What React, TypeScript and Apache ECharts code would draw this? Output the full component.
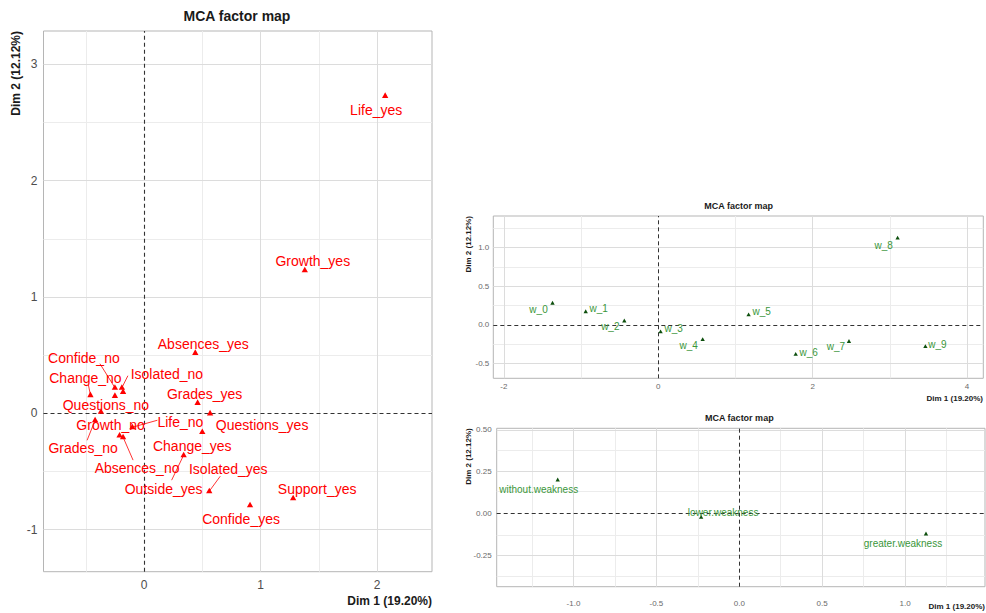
import React, { useEffect, useRef } from "react";
import * as echarts from "echarts";

// ---- Variable categories (left map) ----
const varNames = [
  "Life_yes", "Growth_yes", "Absences_yes", "Grades_yes", "Questions_yes",
  "Change_yes", "Outside_yes", "Isolated_yes", "Support_yes", "Confide_yes",
  "Confide_no", "Change_no", "Isolated_no", "Questions_no", "Growth_no",
  "Grades_no", "Absences_no", "Life_no", "Outside_no", "Support_no",
];
const varDim1 = [
  2.07, 1.38, 0.44, 0.46, 0.567,
  0.50, 0.34, 0.56, 1.28, 0.91,
  -0.25, -0.46, -0.19, -0.37, -0.21,
  -0.42, -0.18, -0.10, -0.18, -0.25,
];
const varDim2 = [
  2.73, 1.23, 0.52, 0.09, 0.0,
  -0.16, -0.36, -0.67, -0.73, -0.79,
  0.22, 0.157, 0.22, 0.014, -0.19,
  -0.06, -0.205, -0.12, 0.185, 0.15,
];

// ---- Weakness levels w_0..w_9 (top right map) ----
const wNames = ["w_0", "w_1", "w_2", "w_3", "w_4", "w_5", "w_6", "w_7", "w_8", "w_9"];
const wDim1 = [-1.37, -0.94, -0.44, 0.03, 0.575, 1.17, 1.78, 2.47, 3.10, 3.46];
const wDim2 = [0.28, 0.17, 0.05, -0.09, -0.19, 0.13, -0.38, -0.215, 1.12, -0.28];

// ---- Weakness groups (bottom right map) ----
const gNames = ["without.weakness", "lower.weakness", "greater.weakness"];
const gDim1 = [-1.095, -0.23, 1.126];
const gDim2 = [0.2, -0.024, -0.124];

// ---- Axis ticks / gridlines ----
const leftXTicks = [0, 1, 2];
const leftXMinor = [-0.5, 0.5, 1.5];
const leftYTicks = [-1, 0, 1, 2, 3];
const leftYMinor = [-0.5, 0.5, 1.5, 2.5];
const trXTicks = [-2, 0, 2, 4];
const trXMinor = [-1, 1, 3];
const trYTicks = [-0.5, 0, 0.5, 1.0];
const trYMinor = [-0.25, 0.25, 0.75, 1.25];
const brXTicks = [-1, -0.5, 0, 0.5, 1];
const brXMinor = [-1.25, -0.75, -0.25, 0.25, 0.75, 1.25];
const brYTicks = [-0.25, 0, 0.25, 0.5];
const brYMinor = [-0.375, -0.125, 0.125, 0.375];

const titleText = "MCA factor map";
const dim1Title = "Dim 1 (19.20%)";
const dim2Title = "Dim 2 (12.12%)";

// ---- Label placement (pixel offsets from the point; optional leader end) ----
type Place = { dx: number; dy: number; seg?: [number, number] } | null;
const varPlace: Place[] = [
  { dx: -9, dy: 14 },
  { dx: 8, dy: -9 },
  { dx: 8, dy: -9 },
  { dx: 7, dy: -9 },
  { dx: 52, dy: 12 },
  { dx: -10, dy: 14 },
  { dx: -20, dy: 34, seg: [-12, 25] },
  { dx: 19, dy: -22, seg: [11, -15] },
  { dx: 24, dy: -9 },
  { dx: -9, dy: 14 },
  { dx: -31, dy: -30, seg: [-15, -24] },
  { dx: -5, dy: -17, seg: [-2, -10] },
  { dx: 45, dy: -14, seg: [6, -12] },
  { dx: 5, dy: -7 },
  { dx: -9, dy: -10 },
  { dx: -12, dy: 28, seg: [-8, 20] },
  { dx: 14, dy: 31, seg: [10, 23] },
  { dx: 48, dy: -5, seg: [25, -7] },
  null,
  null,
];
const wPlace: Place[] = [
  { dx: -14, dy: 6 },
  { dx: 13, dy: -3 },
  { dx: -14, dy: 6 },
  { dx: 13, dy: -3 },
  { dx: -14, dy: 6 },
  { dx: 13, dy: -3 },
  { dx: 13, dy: -2 },
  { dx: -13, dy: 5 },
  { dx: -14, dy: 7 },
  { dx: 12, dy: -2 },
];
const gPlace: Place[] = [
  { dx: -19, dy: 10 },
  { dx: 22, dy: -5 },
  { dx: -23, dy: 9 },
];

const FONT = '"Liberation Sans", Arial, Helvetica, sans-serif';
const RED = "#ff0000";
const GREEN_TXT = "#3a963a";
const GREEN_PT = "#0d4f0d";

function pointsSeries(
  idx: number,
  xs: number[],
  ys: number[],
  names: string[],
  place: Place[],
  opts: { ptColor: string; txtColor: string; size: number; fontSize: number }
) {
  return {
    type: "custom",
    xAxisIndex: idx,
    yAxisIndex: idx,
    z: 5,
    clip: false,
    silent: true,
    encode: { x: 0, y: 1 },
    data: xs.map((x, i) => [x, ys[i], i]),
    renderItem: (params: any, api: any) => {
      const i = params.dataIndex;
      const p = api.coord([api.value(0), api.value(1)]);
      const s = opts.size;
      const children: any[] = [
        {
          type: "polygon",
          shape: {
            points: [
              [p[0], p[1] - s],
              [p[0] - s * 0.9, p[1] + s * 0.6],
              [p[0] + s * 0.9, p[1] + s * 0.6],
            ],
          },
          style: { fill: opts.ptColor },
        },
      ];
      const pl = place[i];
      if (pl) {
        if (pl.seg) {
          children.push({
            type: "line",
            shape: { x1: p[0], y1: p[1], x2: p[0] + pl.seg[0], y2: p[1] + pl.seg[1] },
            style: { stroke: opts.ptColor, lineWidth: 0.8 },
          });
        }
        children.push({
          type: "text",
          x: p[0] + pl.dx,
          y: p[1] + pl.dy,
          style: {
            text: names[i],
            fill: opts.txtColor,
            fontSize: opts.fontSize,
            fontFamily: FONT,
            align: "center",
            verticalAlign: "middle",
          },
        });
      }
      return { type: "group", children };
    },
  };
}

function gridLines(idx: number, xMajor: number[], xMinor: number[], yMajor: number[], yMinor: number[], dashW: number) {
  const minorStyle = { color: "#ececec", width: 1, type: "solid" };
  const majorStyle = { color: "#dcdcdc", width: 1, type: "solid" };
  const zeroStyle = { color: "#333333", width: dashW, type: [4, 3] };
  const data: any[] = [];
  xMinor.forEach((v) => data.push({ xAxis: v, lineStyle: minorStyle }));
  yMinor.forEach((v) => data.push({ yAxis: v, lineStyle: minorStyle }));
  xMajor.filter((v) => v !== 0).forEach((v) => data.push({ xAxis: v, lineStyle: majorStyle }));
  yMajor.filter((v) => v !== 0).forEach((v) => data.push({ yAxis: v, lineStyle: majorStyle }));
  data.push({ xAxis: 0, lineStyle: zeroStyle });
  data.push({ yAxis: 0, lineStyle: zeroStyle });
  return {
    type: "scatter",
    xAxisIndex: idx,
    yAxisIndex: idx,
    z: 1,
    silent: true,
    data: [],
    markLine: {
      silent: true,
      symbol: "none",
      label: { show: false },
      animation: false,
      data,
    },
  };
}

function valueAxis(
  idx: number,
  min: number,
  max: number,
  ticks: number[],
  fmt: (v: number) => string,
  fontSize: number,
  margin: number,
  color: string
) {
  return {
    type: "value",
    gridIndex: idx,
    min,
    max,
    splitLine: { show: false },
    axisLine: { show: false },
    axisTick: {
      show: true,
      length: 3,
      customValues: ticks,
      lineStyle: { color: "#a0a0a0" },
    },
    axisLabel: {
      customValues: ticks,
      formatter: (v: number) => fmt(v),
      color,
      fontSize,
      fontFamily: FONT,
      margin,
    },
  };
}

export default function App() {
  const ref = useRef<HTMLDivElement>(null);

  useEffect(() => {
    document.body.style.margin = "0";
    if (!ref.current) return;
    const chart = echarts.init(ref.current, null, { renderer: "svg" });

    const gridStyle = { show: true, borderColor: "#b5b5b5", borderWidth: 1, backgroundColor: "#ffffff" };

    const txt = (x: number, y: number, text: string, size: number, align: string, rot = 0) => ({
      type: "text",
      x,
      y,
      rotation: rot,
      silent: true,
      style: {
        text,
        fill: "#1a1a1a",
        fontSize: size,
        fontWeight: "bold",
        fontFamily: FONT,
        align,
        verticalAlign: "middle",
      },
    });

    chart.setOption({
      animation: false,
      backgroundColor: "#ffffff",
      grid: [
        { ...gridStyle, left: 43.5, top: 31, width: 388.5, height: 540.7 },
        { ...gridStyle, left: 493.3, top: 216, width: 490, height: 162.3 },
        { ...gridStyle, left: 496.7, top: 428.3, width: 488.3, height: 158.4 },
      ],
      xAxis: [
        valueAxis(0, -0.863, 2.472, leftXTicks, (v) => String(v), 12, 7, "#4d4d4d"),
        valueAxis(1, -2.137, 4.21, trXTicks, (v) => String(v), 8, 4, "#6a6a6a"),
        valueAxis(2, -1.463, 1.482, brXTicks, (v) => v.toFixed(1), 8, 13, "#6a6a6a"),
      ],
      yAxis: [
        valueAxis(0, -1.362, 3.287, leftYTicks, (v) => String(v), 12, 6, "#4d4d4d"),
        valueAxis(1, -0.69, 1.406, trYTicks, (v) => v.toFixed(1), 8, 4, "#6a6a6a"),
        valueAxis(2, -0.44, 0.51, brYTicks, (v) => v.toFixed(2), 8, 5, "#6a6a6a"),
      ],
      graphic: [
        txt(237, 16, titleText, 14, "center"),
        txt(432, 601, dim1Title, 12, "right"),
        txt(16, 31, dim2Title, 12, "right", Math.PI / 2),
        txt(738.7, 206, titleText, 9, "center"),
        txt(983, 398, dim1Title, 8, "right"),
        txt(468, 216, dim2Title, 8, "right", Math.PI / 2),
        txt(739.3, 418.3, titleText, 9, "center"),
        txt(985, 606, dim1Title, 8, "right"),
        txt(468, 428.3, dim2Title, 8, "right", Math.PI / 2),
      ],
      series: [
        gridLines(0, leftXTicks, leftXMinor, leftYTicks, leftYMinor, 1.1),
        gridLines(1, trXTicks, trXMinor, trYTicks, trYMinor, 1),
        gridLines(2, brXTicks, brXMinor, brYTicks, brYMinor, 1),
        pointsSeries(0, varDim1, varDim2, varNames, varPlace, {
          ptColor: RED,
          txtColor: RED,
          size: 3.5,
          fontSize: 14,
        }),
        pointsSeries(1, wDim1, wDim2, wNames, wPlace, {
          ptColor: GREEN_PT,
          txtColor: GREEN_TXT,
          size: 2.4,
          fontSize: 10,
        }),
        pointsSeries(2, gDim1, gDim2, gNames, gPlace, {
          ptColor: GREEN_PT,
          txtColor: GREEN_TXT,
          size: 2.4,
          fontSize: 10,
        }),
      ],
    });

    return () => chart.dispose();
  }, []);

  return <div ref={ref} style={{ width: 986, height: 613 }} />;
}
